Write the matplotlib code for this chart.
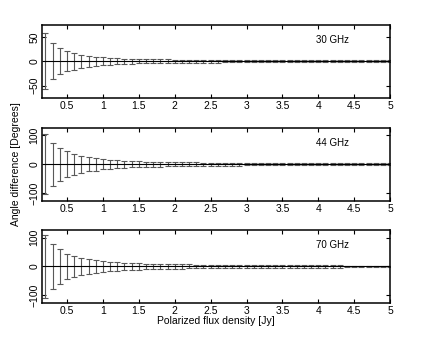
import numpy as np
import matplotlib
matplotlib.use("Agg")
import matplotlib.pyplot as plt

plt.rcParams['font.family'] = ['Liberation Sans', 'DejaVu Sans']
plt.rcParams['font.size'] = 7.5

# Polarized flux density [Jy]
flux = [0.2, 0.3, 0.4, 0.5, 0.6, 0.7, 0.8, 0.9, 1.0, 1.1,
        1.2, 1.3, 1.4, 1.5, 1.6, 1.7, 1.8, 1.9, 2.0, 2.1,
        2.2, 2.3, 2.4, 2.5, 2.6, 2.7, 2.8, 2.9, 3.0, 3.1,
        3.2, 3.3, 3.4, 3.5, 3.6, 3.7, 3.8, 3.9, 4.0, 4.1,
        4.2, 4.3, 4.4, 4.5, 4.6, 4.7, 4.8, 4.9, 5.0]

# mean angle difference [deg]
mean_30 = [0.0] * len(flux)
mean_44 = [0.0] * len(flux)
mean_70 = [0.0] * len(flux)

# error bar half-lengths [deg]
err_30 = [57, 37, 27, 21, 17, 13, 11, 9.5, 8, 7,
          6, 5.5, 5, 4.6, 4.3, 4, 3.8, 3.6, 3.4, 3.2,
          3.1, 3, 2.9, 2.8, 2.7, 2.6, 2.5, 2.4, 2.3, 2.3,
          2.2, 2.2, 2.1, 2.1, 2, 2, 1.9, 1.9, 1.8, 1.8,
          1.8, 1.7, 1.7, 1.7, 1.6, 1.6, 1.6, 1.5, 1.5]
err_44 = [105, 75, 57, 44, 36, 30, 25, 22, 18, 15,
          13, 12, 11, 10, 9.2, 8.6, 8, 7.5, 7, 6.6,
          6.3, 6, 5.7, 5.4, 5.2, 5, 4.8, 4.6, 4.4, 4.3,
          4.2, 4.1, 4, 3.9, 3.8, 3.7, 3.6, 3.5, 3.4, 3.4,
          3.3, 3.2, 3.2, 3.1, 3, 3, 2.9, 2.9, 2.8]
err_70 = [108, 77, 60, 45, 38, 31, 26, 23, 20, 16,
          14, 13, 12, 11, 10, 9.4, 8.8, 8.2, 7.7, 7.3,
          6.9, 6.6, 6.3, 6, 5.8, 5.5, 5.3, 5.1, 4.9, 4.7,
          4.6, 4.5, 4.3, 4.2, 4.1, 4, 3.9, 3.8, 3.7, 3.6,
          3.5, 3.5, 3.4, 3.3, 3.3, 3.2, 3.1, 3.1, 3]

labels = ["30 GHz", "44 GHz", "70 GHz"]
means = [mean_30, mean_44, mean_70]
errs = [err_30, err_44, err_70]
ylims = [75, 127, 127]
yticks = [[-50, 0, 50], [-100, 0, 100], [-100, 0, 100]]
label_y = [43, 75, 75]

fig = plt.figure(figsize=(4.32, 3.41), dpi=100)
bottoms = [0.713, 0.411, 0.111]
axes = []
for i in range(3):
    ax = fig.add_axes([0.097, bottoms[i], 0.806, 0.215])
    axes.append(ax)
    ax.errorbar(flux, means[i], yerr=errs[i], fmt='none', ecolor='0.35',
                elinewidth=0.8, capsize=2.5, capthick=0.8)
    ax.plot(flux, means[i], color='black', lw=0.8)
    ax.set_xlim(0.15, 5)
    ax.set_ylim(-ylims[i], ylims[i])
    ax.set_xticks([0.5, 1, 1.5, 2, 2.5, 3, 3.5, 4, 4.5, 5])
    ax.set_xticklabels(['0.5', '1', '1.5', '2', '2.5', '3', '3.5', '4', '4.5', '5'])
    ax.set_yticks(yticks[i])
    ax.set_yticklabels([str(t).replace('-', '\u2212') for t in yticks[i]],
                       rotation=90, va='center')
    ax.tick_params(direction='in', top=True, right=True, length=3, width=0.8,
                   pad=2)
    for s in ax.spines.values():
        s.set_linewidth(1.1)
    ax.text(4.2, label_y[i], labels[i], ha='center', va='center', fontsize=7)

axes[2].set_xlabel("Polarized flux density [Jy]", labelpad=0)
axes[1].set_ylabel("Angle difference [Degrees]", labelpad=6)

fig.savefig("out.png", dpi=100)
